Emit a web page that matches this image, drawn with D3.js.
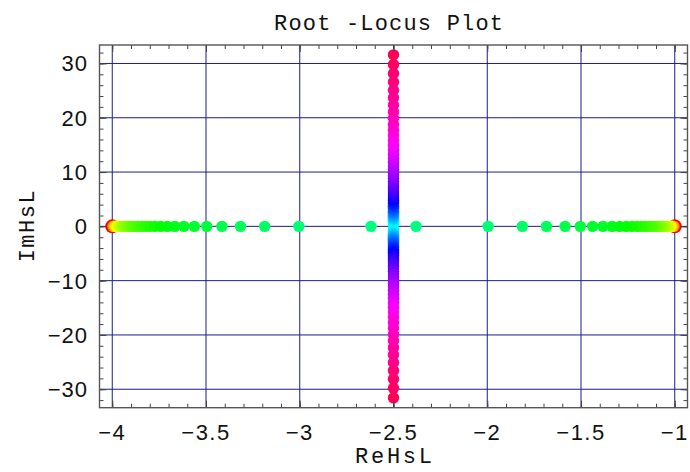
<!DOCTYPE html>
<html>
<head>
<meta charset="utf-8">
<script src="https://cdn.jsdelivr.net/npm/d3@7"></script>
<style>
  body { margin: 0; background: #fff; }
  .tick-label { font-family: "Liberation Sans", sans-serif; font-size: 22px; fill: #111; }
  .title, .axis-title { font-family: "Liberation Mono", monospace; font-size: 22px; fill: #111; }
</style>
</head>
<body>
<svg id="chart" width="690" height="472"></svg>
<script>
// root locus data

var titleText = "Root -Locus  Plot";
var xLabel = "ReHsL";
var yLabel = "ImHsL";

var xTicks = [-4, -3.5, -3, -2.5, -2, -1.5, -1];
var yTicks = [-30, -20, -10, 0, 10, 20, 30];

var poles = [-4, -1];          // open loop poles
var centre = -2.5;             // breakaway point

// distance of the two real roots from -2.5, by increasing gain
var realOffsets = [1.497, 1.497, 1.497, 1.496, 1.496, 1.495, 1.495, 1.494, 1.493, 1.493,
                   1.492, 1.491, 1.489, 1.488, 1.487, 1.485, 1.483, 1.481, 1.479, 1.476,
                   1.473, 1.470, 1.466, 1.462, 1.457, 1.452, 1.446, 1.440, 1.432, 1.423,
                   1.414, 1.403, 1.391, 1.377, 1.361, 1.343, 1.322, 1.299, 1.272, 1.242,
                   1.207, 1.166, 1.118, 1.062, 0.996, 0.915, 0.816, 0.687, 0.505, 0.120];

// imaginary part of the complex pair, by increasing gain
var imagParts = [0.51, 0.75, 0.96, 1.14, 1.32, 1.49, 1.66, 1.84, 2.02, 2.20,
                 2.39, 2.58, 2.78, 3.00, 3.22, 3.45, 3.69, 3.94, 4.21, 4.49,
                 4.78, 5.09, 5.42, 5.77, 6.13, 6.51, 6.92, 7.35, 7.80, 8.28,
                 8.79, 9.32, 9.89, 10.49, 11.12, 11.79, 12.50, 13.25, 14.05, 14.89,
                 15.78, 16.72, 17.72, 18.78, 19.90, 21.08, 22.34, 23.67, 25.07, 26.57,
                 28.14, 29.82, 31.59];

// hue (degrees) seen at the first/last real step and first/last complex step
var hueStops = [0, 150, 175, 340];

var svg = d3.select("#chart");

var plotLeft = 99.5, plotRight = 687.5, plotTop = 45, plotBottom = 407.7;

var x = d3.scaleLinear().domain([-4.068, -0.932]).range([plotLeft, plotRight]);
var y = d3.scaleLinear().domain([-33.4, 33.4]).range([plotBottom, plotTop]);

// build the points, each root keeps the step index for its hue
var points = [];
realOffsets.forEach(function(d, i) {
    points.push({re: centre - d, im: 0, k: i});
    points.push({re: centre + d, im: 0, k: i});
});
imagParts.forEach(function(d, j) {
    var k = realOffsets.length + j;
    points.push({re: centre, im: d, k: k});
    points.push({re: centre, im: -d, k: k});
});

var nReal = realOffsets.length;
var nSteps = nReal + imagParts.length - 1;
var hue = d3.scaleLinear().domain([0, nReal - 1, nReal, nSteps]).range(hueStops);

// grid
svg.selectAll(".vgrid")
   .data(xTicks)
   .enter()
   .append("line")
   .attr("class", "vgrid")
   .attr("x1", d => x(d)).attr("x2", d => x(d))
   .attr("y1", plotTop).attr("y2", plotBottom)
   .attr("stroke", "#1c1c88")
   .attr("stroke-width", 1);

svg.selectAll(".hgrid")
   .data(yTicks)
   .enter()
   .append("line")
   .attr("class", "hgrid")
   .attr("x1", plotLeft).attr("x2", plotRight)
   .attr("y1", d => y(d)).attr("y2", d => y(d))
   .attr("stroke", "#1c1c88")
   .attr("stroke-width", 1);

// open loop poles
svg.selectAll(".pole")
   .data(poles)
   .enter()
   .append("circle")
   .attr("class", "pole")
   .attr("cx", d => x(d))
   .attr("cy", y(0))
   .attr("r", 7)
   .attr("fill", "#ff0000");

// locus points
svg.selectAll(".root")
   .data(points)
   .enter()
   .append("circle")
   .attr("class", "root")
   .attr("cx", d => x(d.re))
   .attr("cy", d => y(d.im))
   .attr("r", 5.7)
   .attr("fill", d => d3.hsl(hue(d.k), 1, 0.5).formatHex());

// frame with inward ticks on all four sides
var xMinor = d3.range(-40, -9, 1).map(d => d / 10);
var yMinor = d3.range(-32, 33, 2);

function tickAxis(axis, g, values, size) {
    g.call(axis.tickValues(values).tickSize(size).tickFormat(""));
    g.select(".domain").remove();
    g.selectAll(".tick line").attr("stroke", "#444");
}

tickAxis(d3.axisBottom(x), svg.append("g").attr("transform", "translate(0," + plotBottom + ")"), xMinor, -4);
tickAxis(d3.axisTop(x), svg.append("g").attr("transform", "translate(0," + plotTop + ")"), xMinor, -4);
tickAxis(d3.axisLeft(y), svg.append("g").attr("transform", "translate(" + plotLeft + ",0)"), yMinor, -4);
tickAxis(d3.axisRight(y), svg.append("g").attr("transform", "translate(" + plotRight + ",0)"), yMinor, -4);
tickAxis(d3.axisBottom(x), svg.append("g").attr("transform", "translate(0," + plotBottom + ")"), xTicks, -7);
tickAxis(d3.axisTop(x), svg.append("g").attr("transform", "translate(0," + plotTop + ")"), xTicks, -7);
tickAxis(d3.axisLeft(y), svg.append("g").attr("transform", "translate(" + plotLeft + ",0)"), yTicks, -7);
tickAxis(d3.axisRight(y), svg.append("g").attr("transform", "translate(" + plotRight + ",0)"), yTicks, -7);

svg.append("rect")
   .attr("x", plotLeft).attr("y", plotTop)
   .attr("width", plotRight - plotLeft).attr("height", plotBottom - plotTop)
   .attr("fill", "none")
   .attr("stroke", "#555")
   .attr("stroke-width", 1.4);

// tick labels
var fmt = d => String(d).replace("-", "\u2212");

svg.selectAll(".xlab")
   .data(xTicks)
   .enter()
   .append("text")
   .attr("class", "tick-label")
   .attr("text-anchor", "middle")
   .attr("letter-spacing", "1.5px")
   .attr("x", d => x(d))
   .attr("y", 440)
   .text(fmt);

svg.selectAll(".ylab")
   .data(yTicks)
   .enter()
   .append("text")
   .attr("class", "tick-label")
   .attr("text-anchor", "end")
   .attr("letter-spacing", "1px")
   .attr("x", 88)
   .attr("y", d => y(d) + 8)
   .text(fmt);

// titles
svg.append("text")
   .attr("class", "title")
   .attr("text-anchor", "middle")
   .attr("x", 388.5)
   .attr("y", 29.5)
   .attr("textLength", 229)
   .attr("lengthAdjust", "spacing")
   .text(titleText);

svg.append("text")
   .attr("class", "axis-title")
   .attr("text-anchor", "middle")
   .attr("x", 393.5)
   .attr("y", 463)
   .attr("textLength", 77)
   .attr("lengthAdjust", "spacing")
   .text(xLabel);

svg.append("text")
   .attr("class", "axis-title")
   .attr("text-anchor", "middle")
   .attr("transform", "translate(34," + y(0) + ") rotate(-90)")
   .attr("textLength", 72)
   .attr("lengthAdjust", "spacing")
   .text(yLabel);
</script>
</body>
</html>
